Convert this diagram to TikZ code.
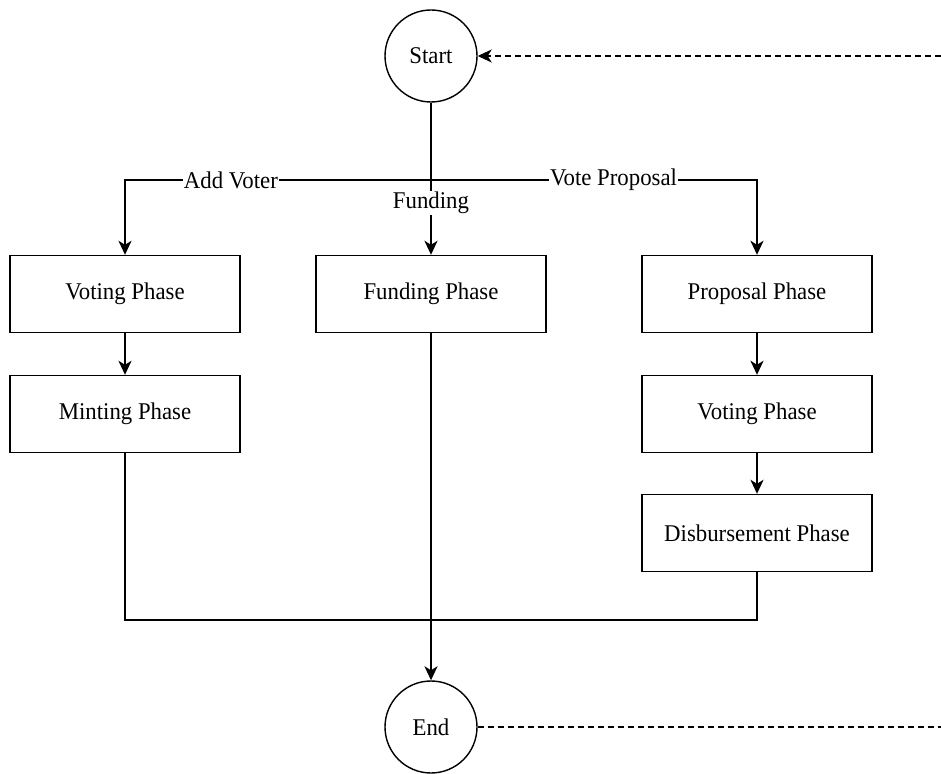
\documentclass[tikz,border=0pt]{standalone}
\usepackage{fontspec}
\setmainfont{Liberation Serif}[FakeStretch=0.95]
\usetikzlibrary{arrows.meta}
\begin{document}
\begin{tikzpicture}[x=1pt,y=-1pt,
  font=\fontsize{24}{28}\selectfont,
  phase/.style={draw,line width=1.4pt,rectangle,minimum width=230pt,minimum height=77pt,inner sep=0pt},
  terminal/.style={draw,line width=1.4pt,circle,minimum size=92pt,inner sep=0pt},
  flow/.style={line width=2pt,-{Stealth[length=14pt,width=13pt,inset=4pt]}},
  link/.style={line width=2pt},
  thinlink/.style={line width=1.2pt},
  lbl/.style={fill=white,inner sep=1pt},
  loop/.style={line width=1.4pt,dash pattern=on 6pt off 4pt},
  loophead/.style={-{Stealth[length=14pt,width=13pt,inset=4pt]}}]
\useasboundingbox (0,0) rectangle (941,773);

% terminals
\node[terminal] (start) at (431,56) {Start};
\node[terminal] (end) at (431,727) {End};

% phases
\node[phase] (vote1) at (125,294) {Voting Phase};
\node[phase] (fund) at (431,294) {Funding Phase};
\node[phase] (prop) at (757,294) {Proposal Phase};
\node[phase] (mint) at (125,414) {Minting Phase};
\node[phase] (vote2) at (757,414) {Voting Phase};
\node[phase] (disb) at (757,533) {Disbursement Phase};

% branching from Start
\coordinate (hub) at (431,180);
\coordinate (join) at (431,620);
\draw[link] (start) -- (hub);
\draw[flow] (hub) -| node[lbl,pos=0.327] {Add Voter} (vote1);
\draw[flow] (hub) -| node[lbl,pos=0.28] {Vote Proposal} (prop);
\draw[flow] (hub) -- node[lbl,pos=0.31] {Funding} (fund);

% within each branch
\draw[flow] (vote1) -- (mint);
\draw[flow] (prop) -- (vote2);
\draw[flow] (vote2) -- (disb);

% merging towards End
\draw[link] (mint) |- (join);
\draw[link] (disb) |- (join);
\draw[thinlink] (fund) -- (join);
\draw[flow] (join) -- (end);

% loop back
\coordinate (loopin) at (941,56);
\coordinate (loopout) at (941,727);
\draw[loop,loophead] (loopin) -- (start);
\draw[loop] (end) -- (loopout);
\end{tikzpicture}
\end{document}
